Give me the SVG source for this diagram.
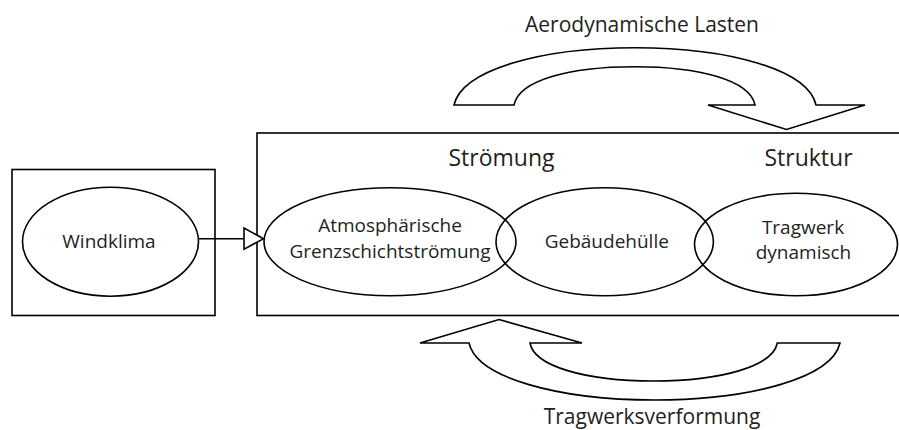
<svg xmlns="http://www.w3.org/2000/svg" width="899" height="430" viewBox="0 0 899 430">
<style>
.ln{fill:none;stroke:#000;stroke-width:1.6}
.sh{fill:#fff;stroke:#000;stroke-width:1.6;stroke-linejoin:miter}
.t{font-family:"Open Sans","Noto Sans","Liberation Sans",sans-serif;fill:#231f20;text-anchor:middle}
.n{font-size:19px}
.h{font-size:23px}
.c{font-size:21px}
</style>
<rect width="899" height="430" fill="#fff"/>
<g id="windklima-box">
<rect class="ln" x="12" y="169.5" width="203" height="146"/>
</g>
<g id="system-box">
<rect class="ln" x="257" y="133" width="660" height="182.5"/>
<text class="t h" x="501.5" y="166">Strömung</text>
<text class="t h" x="808.5" y="166">Struktur</text>
</g>
<g id="windklima">
<ellipse class="ln" cx="110.5" cy="241.7" rx="88" ry="54.5"/>
<text class="t n" x="109" y="248">Windklima</text>
</g>
<g id="grenzschicht">
<ellipse class="ln" cx="390" cy="241.7" rx="126" ry="54"/>
<text class="t n" x="390" y="231.5">Atmosphärische</text>
<text class="t n" x="390" y="257.5">Grenzschichtströmung</text>
</g>
<g id="gebaeudehuelle">
<ellipse class="ln" cx="604.7" cy="241.7" rx="108.7" ry="54"/>
<text class="t n" x="606.8" y="247.5">Gebäudehülle</text>
</g>
<g id="tragwerk">
<ellipse class="ln" cx="796" cy="244.5" rx="101.5" ry="51.2"/>
<text class="t n" x="803" y="234">Tragwerk</text>
<text class="t n" x="803.5" y="258.5">dynamisch</text>
</g>
<g id="connectors">
<line class="ln" x1="198.5" y1="238.7" x2="244" y2="238.7"/>
<path class="sh" d="M244,228 L263.5,238.7 L244,249.2 Z"/>
<path id="aero-arrow" class="sh" d="M454,105 C462,70 540,47.7 635,47.7 C730,47.7 808,70 816,105 L865,105 L786.5,129.5 L708,105 L755,105 C750,80 699,66.7 634.5,66.7 C570,66.7 519,80 514,105 Z"/>
<path id="verformung-arrow" class="sh" d="M499,319.5 L582,343 L530,343 C534,366 585,381 653.5,381 C722,381 773,366 777.3,343 L840,343 C832,378 750,400 654.5,400 C559,400 477,378 469,343 L420,343 Z"/>
</g>
<g id="labels">
<text class="t c" x="642" y="31.5">Aerodynamische Lasten</text>
<text class="t c" x="652" y="424">Tragwerksverformung</text>
</g>
</svg>
